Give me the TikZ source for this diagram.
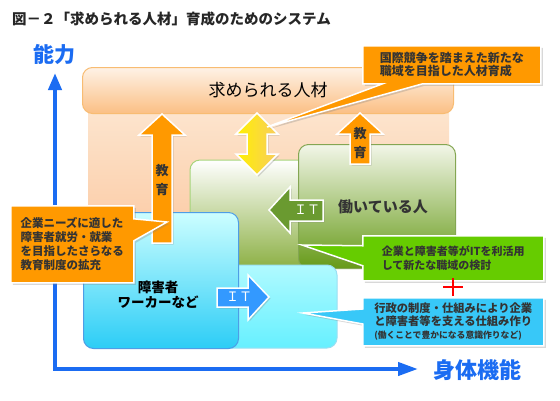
\documentclass[tikz,border=0pt]{standalone}
\usepackage{fontspec}
\setmainfont{Noto Sans CJK JP}
\usetikzlibrary{arrows.meta,shapes.callouts,shadows}

\definecolor{axisblue}{HTML}{1B6CF2}
\definecolor{txtgray}{HTML}{333333}
\definecolor{calorange}{HTML}{FF9900}
\definecolor{calgreen}{HTML}{66CC00}
\definecolor{calblue}{HTML}{38C8F8}
\definecolor{peachT}{HTML}{FDEAD6}
\definecolor{peachB}{HTML}{FBC49A}
\definecolor{headT}{HTML}{FEF2E6}
\definecolor{headB}{HTML}{FBBF84}
\definecolor{headline}{HTML}{F8BC72}
\definecolor{midgreenB}{HTML}{8CB044}
\definecolor{midgreenline}{HTML}{A6D47A}
\definecolor{workT}{HTML}{F2F6E8}
\definecolor{workB}{HTML}{669A18}
\definecolor{workline}{HTML}{84A652}
\definecolor{cyanlightT}{HTML}{B0FAFF}
\definecolor{cyanlightB}{HTML}{66F0FF}
\definecolor{cyanlightline}{HTML}{9ADFF2}
\definecolor{cyanT}{HTML}{CCFEFF}
\definecolor{cyanM}{HTML}{66F2FF}
\definecolor{cyanB}{HTML}{2CCDF6}
\definecolor{cyanline}{HTML}{4E9DE6}
\definecolor{yellowL}{HTML}{FFF000}
\definecolor{yellowR}{HTML}{F8CC60}
\definecolor{itgreen}{HTML}{6A9A30}
\definecolor{itblue}{HTML}{3399FF}

\begin{document}
\begin{tikzpicture}[x=1pt,y=-1pt,
  box/.style={rounded corners=10pt, line width=1pt, inner sep=0pt, anchor=north west},
  callout/.style={rectangle callout, draw=white, line width=1.5pt, text=txtgray, align=left,
    anchor=north west, inner sep=0pt, font=\bfseries\fontsize{11.5}{14}\selectfont,
    drop shadow={opacity=0.3, shadow xshift=2pt, shadow yshift=-2pt}},
  bigarrow/.style={draw=white, line width=1.5pt,
    drop shadow={opacity=0.3, shadow xshift=1.5pt, shadow yshift=-1.5pt}},
  lbl/.style={text=txtgray, inner sep=0pt}]

  \useasboundingbox (0,0) rectangle (560,400);
  \fill[white] (0,0) rectangle (560,400);

  \node[lbl, anchor=west, text=black!85, font=\bfseries\fontsize{14.5}{15}\selectfont] (title) at (12,19)
    {図－２「求められる人材」育成のためのシステム};

  % backgrounds
  \path[top color=peachT, bottom color=peachB] (88,85) rectangle (449,268);
  \node[box, draw=headline, top color=headT, bottom color=headB, minimum width=371pt,
    minimum height=46pt, font=\fontsize{17}{17}\selectfont] (need) at (82,67) {求められる人材};
  \draw[rounded corners=10pt, draw=midgreenline, line width=1pt, top color=white,
    bottom color=midgreenB] (190,160) rectangle (340,268);
  \node[box, draw=workline, top color=workT, bottom color=workB, minimum width=157pt,
    minimum height=124pt, font=\bfseries\fontsize{15}{15}\selectfont, text=txtgray]
    (work) at (298,144) {\hspace{12pt}働いている人};
  \draw[rounded corners=10pt, draw=cyanlightline, line width=1pt, top color=cyanlightT,
    bottom color=cyanlightB] (200,265) rectangle (337,348);
  \node[box, draw=cyanline, top color=cyanT, middle color=cyanM, bottom color=cyanB,
    minimum width=155pt, minimum height=136pt] (hw) at (83,212) {};
  \node[lbl, text=black, align=center, font=\bfseries\fontsize{13.5}{15}\selectfont]
    (hwlabel) at (158,295) {障害者\\ワーカーなど};

  % axes
  \draw[axisblue, line width=4pt, {Triangle[length=17pt,width=13pt]}-{Triangle[length=20pt,width=13pt]}]
    (55,73) -- (55,369) -- (418,369);
  \node[text=axisblue, font=\bfseries\fontsize{21}{21}\selectfont] (ylab) at (55,55) {能力};
  \node[text=axisblue, font=\bfseries\fontsize{22}{22}\selectfont] (xlab) at (477,370) {身体機能};

  % arrows
  \foreach \x/\t/\b/\m [count=\i] in {162/114/243/180, 360/113/164/143}{
    \draw[bigarrow, fill=calorange] (\x,\t) -- (\x+23,\t+21) -- (\x+10,\t+21) -- (\x+10,\b)
      -- (\x-10,\b) -- (\x-10,\t+21) -- (\x-23,\t+21) -- cycle;
    \node[lbl, align=center, font=\bfseries\fontsize{13}{19}\selectfont] (E-\i) at (\x,\m) {教\\育};
  }
  \draw[bigarrow, left color=yellowL, right color=yellowR] (257,113) -- (278,134) -- (267,134)
    -- (267,154) -- (278,154) -- (257,175) -- (236,154) -- (247,154) -- (247,134) -- (236,134) -- cycle;
  \draw[bigarrow, fill=itgreen] (269,210) -- (290,187) -- (290,200) -- (323,200) -- (323,221)
    -- (290,221) -- (290,233) -- cycle;
  \node[text=white, font=\fontsize{13}{13}\selectfont] (IT-1) at (307,210) {ＩＴ};
  \draw[bigarrow, fill=itblue] (217,288) -- (248,288) -- (248,275) -- (269,297) -- (248,320)
    -- (248,307) -- (217,307) -- cycle;
  \node[text=white, font=\fontsize{13}{13}\selectfont] (IT-2) at (239,297) {ＩＴ};

  % callouts
  \coordinate (P-1) at (267,127);
  \coordinate (P-2) at (167,222);
  \coordinate (P-3) at (302,245);
  \coordinate (P-4) at (303,313);
  \node[callout, fill=calorange, minimum width=178pt, minimum height=38pt,
    callout absolute pointer={(P-1)}, callout pointer width=40pt, font=\bfseries\fontsize{12}{12.5}\selectfont]
    (C-1) at (362,45) {国際競争を踏まえた新たな\\職域を目指した人材育成};
  \node[callout, fill=calorange, minimum width=123pt, minimum height=77pt,
    callout absolute pointer={(P-2)}, callout pointer width=22pt]
    (C-2) at (10,205) {企業ニーズに適した\\障害者就労・就業\\を目指したさらなる\\教育制度の拡充};
  \node[callout, fill=calgreen, minimum width=181pt, minimum height=45pt,
    callout absolute pointer={(P-3)}, callout pointer width=20pt, font=\bfseries\fontsize{11}{14}\selectfont]
    (C-3) at (362,235) {企業と障害者等がITを利活用\\して新たな職域の検討};
  \node[callout, fill=calblue, minimum width=181pt, minimum height=48pt,
    callout absolute pointer={(P-4)}, callout pointer width=15pt, font=\bfseries\fontsize{11.3}{13}\selectfont]
    (C-4) at (362,297) {行政の制度・仕組みにより企業\\と障害者等を支える仕組み作り\\
    {\fontsize{8.8}{11}\selectfont (働くことで豊かになる意識作りなど)}};

  \draw[red, line width=2.5pt] (443,287) -- (463,287) (453,278) -- (453,296);

\end{tikzpicture}
\end{document}
